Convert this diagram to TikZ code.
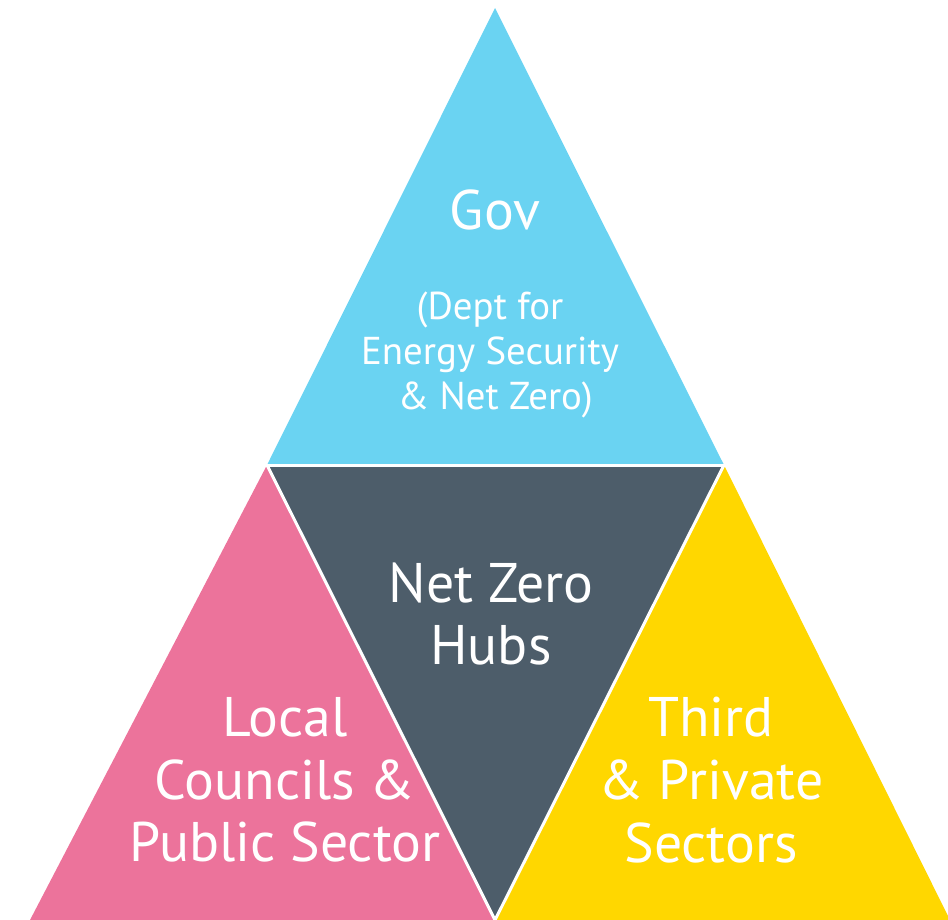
\documentclass[tikz,border=0pt]{standalone}
\usepackage{fontspec}
\setmainfont{PT Sans}
\definecolor{govblue}{RGB}{106,211,242}
\definecolor{hubslate}{RGB}{77,93,106}
\definecolor{lcpink}{RGB}{236,115,155}
\definecolor{tpyellow}{RGB}{255,215,0}
\begin{document}
\begin{tikzpicture}[x=1bp,y=-1bp,
  big/.style={text=white,align=center,font={\fontsize{56}{63}\selectfont}},
  small/.style={text=white,align=center,font={\fontsize{39}{45}\selectfont}}]
\useasboundingbox (0,0) rectangle (948,920);
\fill[govblue] (495,8) -- (724,465) -- (267,465) -- cycle;
\fill[hubslate] (267,465) -- (724,465) -- (495,920) -- cycle;
\fill[lcpink] (267,465) -- (495,920) -- (30,920) -- cycle;
\fill[tpyellow] (724,465) -- (950,920) -- (495,920) -- cycle;
\draw[white,line width=3bp] (262,465) -- (729,465);
\draw[white,line width=3bp] (267,465) -- (495,920);
\draw[white,line width=3bp] (724,465) -- (495,920);
\node[big] (gov) at (495,210) {Gov};
\node[small] (dept) at (490,355) {(Dept for\\Energy Security\\\ \& Net Zero)};
\node[big] (hub) at (491,614) {Net Zero\\Hubs};
\node[big] (lc) at (285,780) {Local\\Councils \&\\Public Sector};
\node[big] (tp) at (711,780) {Third\\\& Private\\Sectors};
\end{tikzpicture}
\end{document}
